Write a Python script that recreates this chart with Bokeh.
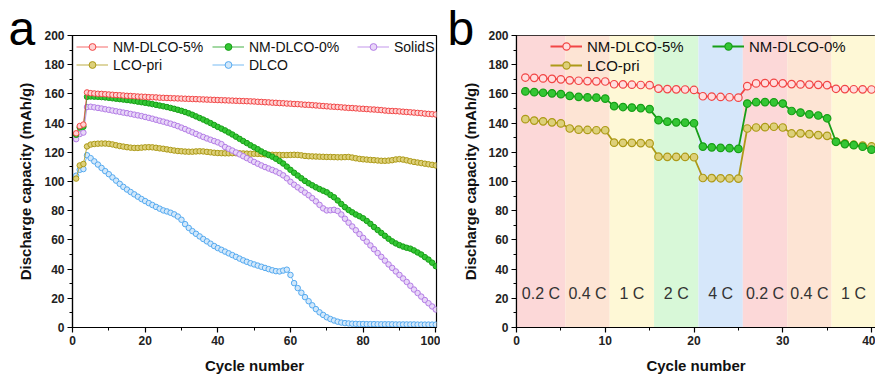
from bokeh.plotting import figure
from bokeh.layouts import row
from bokeh.models import (Legend, LegendItem, SingleIntervalTicker, Range1d,
                          ColumnDataSource)
from bokeh.embed import file_html
from bokeh.resources import INLINE
from bokeh.core.properties import value

# ---------------- data: panel a (cycling, 100 cycles) ----------------
cycles_a = list(range(1, 101))
nm5_a = [133, 138, 139, 161, 160.5, 160.3, 160.1, 160.0, 159.8, 159.6,
         159.4, 159.2, 159.1, 158.9, 158.7, 158.6, 158.4, 158.2, 158.1, 158.0,
         157.8, 157.7, 157.6, 157.4, 157.3, 157.2, 157.1, 157.0, 156.9, 156.8,
         156.7, 156.6, 156.5, 156.4, 156.3, 156.2, 156.1, 156.0, 155.9, 155.8,
         155.7, 155.6, 155.5, 155.4, 155.3, 155.2, 155.1, 155.0, 154.9, 154.8,
         154.6, 154.5, 154.3, 154.2, 154.0, 153.9, 153.7, 153.6, 153.4, 153.3,
         153.1, 153.0, 152.8, 152.6, 152.5, 152.3, 152.1, 151.9, 151.7, 151.5,
         151.3, 151.2, 151.0, 150.8, 150.6, 150.4, 150.3, 150.1, 149.9, 149.8,
         149.6, 149.4, 149.3, 149.1, 148.9, 148.6, 148.4, 148.3, 148.2, 148.0,
         147.8, 147.6, 147.4, 147.2, 147.0, 146.8, 146.5, 146.3, 146.1, 145.9]
nm0_a = [132, 137, 137.5, 158, 158.2, 158.1, 158.0, 157.8, 157.6, 157.3,
         157.0, 156.7, 156.4, 156.1, 155.8, 155.5, 155.1, 154.7, 154.3, 153.9,
         153.5, 153.0, 152.5, 152.0, 151.5, 151.0, 150.4, 149.8, 149.1, 148.4,
         147.6, 146.7, 145.7, 144.6, 143.5, 142.4, 141.2, 140.0, 138.7, 137.4,
         136.2, 135.0, 133.6, 132.2, 130.7, 129.2, 127.7, 126.3, 124.8, 123.4,
         122.1, 120.6, 119.3, 118.1, 117.0, 115.6, 114.0, 112.3, 110.2, 108.0,
         106.0, 104.1, 102.2, 100.4, 98.8, 97.4, 96.0, 94.8, 93.7, 92.6,
         90.8, 89.2, 87.0, 84.6, 82.4, 80.5, 78.9, 77.4, 76.2, 74.8,
         73.0, 71.0, 68.8, 66.8, 64.8, 62.8, 60.8, 59.0, 57.6, 56.4,
         55.4, 54.6, 54.0, 52.8, 51.4, 50.0, 48.2, 46.5, 44.4, 42.0]
solids_a = [129, 132.5, 133.5, 151, 151.2, 150.8, 150.4, 150.0, 149.5, 149.1,
            148.6, 148.1, 147.7, 147.2, 146.8, 146.3, 145.8, 145.3, 144.8, 144.2,
            143.6, 143.0, 142.3, 141.6, 141.0, 140.3, 139.6, 138.8, 137.9, 136.9,
            135.9, 134.8, 133.7, 132.6, 131.5, 130.5, 129.5, 128.6, 127.7, 126.8,
            125.6, 123.6, 122.4, 121.2, 119.9, 118.6, 117.3, 116.0, 114.7, 113.4,
            112.2, 111.0, 109.9, 108.9, 107.9, 106.9, 105.7, 104.2, 102.2, 99.8,
            97.8, 96.0, 94.2, 92.4, 90.6, 88.6, 86.4, 84.0, 81.6, 80.2,
            80.3, 80.6, 79.8, 77.4, 74.5, 71.8, 69.2, 66.6, 64.0, 61.4,
            58.8, 56.2, 53.6, 51.0, 48.4, 45.8, 43.2, 40.8, 38.4, 36.0,
            33.6, 31.2, 28.6, 26.0, 23.6, 21.2, 18.8, 16.6, 14.4, 12.3]
lco_a = [102, 111, 112, 124, 125.3, 125.7, 125.9, 126.0, 126.0, 125.8,
         125.4, 124.8, 124.3, 123.9, 123.5, 123.2, 123.0, 123.0, 123.2, 123.4,
         123.5, 123.4, 123.1, 122.7, 122.4, 122.0, 121.6, 121.2, 120.9, 120.7,
         120.5, 120.4, 120.4, 120.6, 120.7, 120.6, 120.3, 120.0, 119.7, 119.5,
         119.4, 119.3, 119.3, 119.4, 119.4, 119.3, 119.2, 119.1, 119.0, 119.0,
         118.9, 118.8, 118.6, 118.4, 118.3, 118.2, 118.2, 118.1, 118.1, 118.2,
         118.3, 118.2, 117.9, 117.5, 117.3, 117.2, 117.1, 117.0, 116.9, 116.8,
         116.8, 116.7, 116.6, 116.6, 116.7, 116.8, 116.4, 115.9, 115.5, 115.2,
         115.0, 114.8, 114.6, 114.4, 114.2, 114.2, 114.3, 114.6, 115.1, 115.3,
         115.0, 114.5, 113.9, 113.4, 113.0, 112.6, 112.2, 111.8, 111.4, 111.0]
dlco_a = [104, 108, 108.5, 118, 116.0, 113.8, 111.6, 109.3, 107.1, 105.0,
          102.8, 100.6, 98.4, 96.3, 94.5, 92.8, 91.2, 89.6, 88.0, 86.6,
          85.2, 83.9, 82.6, 81.4, 80.2, 79.5, 78.6, 77.5, 76.0, 73.8,
          70.8, 68.2, 66.0, 64.2, 62.4, 60.6, 59.0, 57.4, 55.8, 54.4,
          53.2, 52.0, 50.8, 49.6, 48.4, 47.2, 46.0, 45.0, 44.0, 43.2,
          42.4, 41.6, 40.8, 40.0, 39.2, 38.6, 38.4, 39.0, 39.6, 36.0,
          30.4, 27.0, 23.8, 20.8, 18.0, 15.2, 12.6, 10.4, 8.6, 7.0,
          5.8, 4.8, 4.0, 3.4, 3.0, 2.8, 2.6, 2.5, 2.4, 2.4,
          2.3, 2.3, 2.3, 2.2, 2.2, 2.2, 2.2, 2.2, 2.1, 2.1,
          2.1, 2.1, 2.1, 2.1, 2.0, 2.0, 2.0, 2.0, 2.0, 2.0]

# ---------------- data: panel b (rate capability, 40 cycles) ----------------
cycles_b = list(range(1, 41))
nm5_b = [171.2, 171.0, 170.6, 170.3, 170.0, 169.3, 169.0, 168.8, 168.6, 168.5,
         166.6, 166.5, 166.3, 166.1, 166.0, 163.6, 163.3, 163.1, 163.0, 162.7,
         158.4, 158.2, 157.9, 157.7, 157.4, 165.3, 167.2, 167.4, 167.6, 167.2,
         166.7, 166.5, 166.4, 166.2, 166.0, 163.5, 163.3, 163.2, 163.1, 163.0]
nm0_b = [161.7, 161.2, 160.8, 160.4, 159.8, 158.6, 158.0, 157.6, 157.4, 156.8,
         151.6, 151.0, 150.6, 150.3, 149.6, 142.0, 141.0, 140.5, 140.3, 139.9,
         123.9, 123.4, 123.0, 122.8, 122.3, 153.4, 154.3, 154.4, 154.2, 153.4,
         148.3, 147.2, 146.0, 145.2, 143.3, 127.2, 125.6, 124.9, 123.8, 121.8]
lco_b = [142.7, 141.7, 141.2, 140.5, 139.8, 136.3, 135.5, 135.3, 135.1, 135.1,
         126.6, 126.5, 126.5, 126.3, 126.1, 117.0, 116.9, 116.9, 116.8, 116.6,
         102.4, 102.3, 102.2, 102.1, 102.0, 136.3, 137.0, 137.2, 137.5, 137.0,
         132.9, 133.0, 132.5, 131.8, 131.3, 127.3, 126.2, 125.2, 124.6, 124.0]
rate_labels = ["0.2 C", "0.4 C", "1 C", "2 C", "4 C", "0.2 C", "0.4 C", "1 C"]
cycles_per_rate = 5

FONT = "Liberation Sans"
RED, RED_F = "#f24646", "#ffd2d2"
GRN, GRN_F = "#179f17", "#34c634"
PUR, PUR_F = "#b47de6", "#e8d6f8"
OLV, OLV_F = "#ad9a18", "#ddd07a"
BLU, BLU_F = "#55aaf0", "#d2e8fb"
band_colors = {"0.2 C": "#fcd8d8", "0.4 C": "#fde4d4", "1 C": "#fef8d6",
               "2 C": "#d8f8d8", "4 C": "#d6e7fa"}


def style(p, xint, letter, offset):
    p.outline_line_color = "black"
    p.outline_line_width = 1.2
    p.outline_line_alpha = 1
    p.xgrid.visible = False
    p.ygrid.visible = False
    p.background_fill_color = "white"
    p.border_fill_color = "white"
    p.xaxis.ticker = SingleIntervalTicker(interval=xint, num_minor_ticks=2)
    p.yaxis.ticker = SingleIntervalTicker(interval=20, num_minor_ticks=2)
    for ax in (p.xaxis[0], p.yaxis[0]):
        ax.axis_line_width = 1.2
        ax.major_tick_out = 5
        ax.major_tick_in = 0
        ax.minor_tick_out = 3
        ax.minor_tick_in = 0
        ax.major_tick_line_width = 1.2
        ax.major_label_text_font = FONT
        ax.major_label_text_font_style = "bold"
        ax.major_label_text_font_size = "12px"
        ax.major_label_text_color = "#222222"
        ax.major_label_standoff = 3
        ax.axis_label_text_font = FONT
        ax.axis_label_text_font_style = "bold"
        ax.axis_label_text_font_size = "15px"
        ax.axis_label_text_color = "#111111"
    p.xaxis.axis_label = "Cycle number"
    p.yaxis.axis_label = "Discharge capacity (mAh/g)"
    p.xaxis.axis_label_standoff = 9
    p.yaxis.axis_label_standoff = 7
    # panel letter as the (shifted) title
    t = p.title
    t.text = letter
    t.text_font = FONT
    t.text_font_size = "48px"
    t.text_font_style = "normal"
    t.text_color = "black"
    t.align = "left"
    t.vertical_align = "bottom"
    t.offset = offset
    t.standoff = -38


def make_legend(items, x, y, size="14px", h=17, spacing=1):
    return Legend(items=items, location=(x, y), orientation="vertical",
                  background_fill_alpha=0, border_line_alpha=0,
                  label_text_font=FONT, label_text_font_size=size,
                  label_text_color="#111111",
                  glyph_width=32, glyph_height=h, label_height=h,
                  label_standoff=5, spacing=spacing, padding=4, margin=0)


# ---------------- panel a ----------------
pa = figure(width=440, height=376, output_backend="svg", toolbar_location=None,
            x_range=Range1d(0, 100.2), y_range=Range1d(0, 200),
            min_border_left=72, min_border_right=4, min_border_top=35,
            min_border_bottom=48)
style(pa, 20, "a", -64)

src_a = ColumnDataSource(dict(c=cycles_a, nm5=nm5_a, nm0=nm0_a, solids=solids_a,
                              lco=lco_a, dlco=dlco_a))
rend_a = {}
for key, col, fc in [("dlco", BLU, BLU_F), ("lco", OLV, OLV_F), ("solids", PUR, PUR_F),
                     ("nm0", GRN, GRN_F), ("nm5", RED, RED_F)]:
    l = pa.line("c", key, source=src_a, line_color=col, line_width=1, line_alpha=0.8)
    s = pa.scatter("c", key, source=src_a, marker="circle", size=5.5,
                   line_color=col, fill_color=fc, line_width=1)
    rend_a[key] = [l, s]

la1 = make_legend([LegendItem(label="NM-DLCO-5%", renderers=rend_a["nm5"]),
                   LegendItem(label="LCO-pri", renderers=rend_a["lco"])], 0, 250)
la2 = make_legend([LegendItem(label="NM-DLCO-0%", renderers=rend_a["nm0"]),
                   LegendItem(label="DLCO", renderers=rend_a["dlco"])], 136, 250)
la3 = make_legend([LegendItem(label="SolidS", renderers=rend_a["solids"])], 281, 268)
for lg in (la1, la2, la3):
    pa.add_layout(lg, "center")

# ---------------- panel b ----------------
pb = figure(width=435, height=376, output_backend="svg", toolbar_location=None,
            x_range=Range1d(0, 40.45), y_range=Range1d(0, 200),
            min_border_left=76, min_border_right=0, min_border_top=35,
            min_border_bottom=48)
style(pb, 10, "b", -69)
pb.yaxis.axis_label_standoff = 6

n = len(rate_labels)
b_left = [0 if i == 0 else i * cycles_per_rate + 0.5 for i in range(n)]
b_right = [i * cycles_per_rate + 5.5 if i < n - 1 else 41 for i in range(n)]
b_mid = [(a + min(b, 40.45)) / 2 for a, b in zip(b_left, b_right)]
src_band = ColumnDataSource(dict(left=b_left, right=b_right, mid=b_mid,
                                 lab=rate_labels,
                                 col=[band_colors[r] for r in rate_labels],
                                 bot=[0] * n, top=[200] * n, ty=[23] * n))
pb.quad(left="left", right="right", bottom="bot", top="top", source=src_band,
        fill_color="col", line_alpha=0)
pb.text(x="mid", y="ty", text="lab", source=src_band, text_font=value(FONT),
        text_font_size="16px", text_color="#333333", text_align="center",
        text_baseline="middle")

src_b = ColumnDataSource(dict(c=cycles_b, nm5=nm5_b, nm0=nm0_b, lco=lco_b))
rend_b = {}
for key, col, fc in [("lco", OLV, OLV_F), ("nm0", GRN, GRN_F), ("nm5", RED, "#ffdede")]:
    l = pb.line("c", key, source=src_b, line_color=col, line_width=1.8)
    s = pb.scatter("c", key, source=src_b, marker="circle", size=7.5,
                   line_color=col, fill_color=fc, line_width=1.2)
    rend_b[key] = [l, s]

lb1 = make_legend([LegendItem(label="NM-DLCO-5%", renderers=rend_b["nm5"]),
                   LegendItem(label="LCO-pri", renderers=rend_b["lco"])], 30, 249,
                  size="15px", h=18)
lb2 = make_legend([LegendItem(label="NM-DLCO-0%", renderers=rend_b["nm0"])], 192, 268,
                  size="15px", h=18)
for lg in (lb1, lb2):
    pb.add_layout(lg, "center")

layout = row(pa, pb, spacing=0)
open("out.html", "w").write(file_html(layout, INLINE))
